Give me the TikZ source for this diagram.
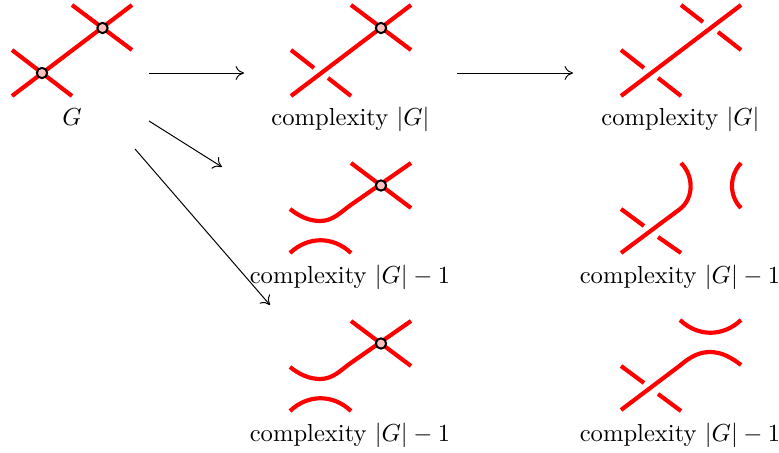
\documentclass[tikz,border=0pt]{standalone}
\usetikzlibrary{arrows.meta}
\begin{document}
\begin{tikzpicture}[x=0.4066pt,y=-0.4066pt,
  strand/.style={red,line width=1.7pt},
  vertex/.style={circle,draw=black,fill=red!25,line width=0.8pt,inner sep=0pt,minimum size=4.2pt},
  lab/.style={anchor=base,inner sep=0pt},
  arr/.style={-{Computer Modern Rightarrow[length=3.4pt,width=5.6pt]},line width=0.4pt,black}]
\useasboundingbox (0,0) rectangle (779,453);
% row 1 left
\draw[strand] (12,96) -- (132,5);
\draw[strand] (12,50) -- (72,96);
\draw[strand] (72,5) -- (132,50);
\node[vertex] (va) at (42,73) {};
\node[vertex] (vb) at (102.5,28) {};
\node[lab] (lg) at (72,126) {$G$};
% row 1 middle
\draw[strand] (291,96) -- (411,5);
\draw[strand] (291,50) -- (314,68);
\draw[strand] (328,78) -- (351,96);
\draw[strand] (351,5) -- (411,50);
\node[vertex] (vc) at (381,28) {};
\node[lab] (l1) at (350.5,126) {complexity $|G|$};
% row 1 right
\draw[strand] (621,96) -- (741,5);
\draw[strand] (621,50) -- (644,68);
\draw[strand] (658,78) -- (681,96);
\draw[strand] (681,5) -- (703,22);
\draw[strand] (718,32) -- (741,50);
\node[lab] (l2) at (680.5,126) {complexity $|G|$};
% row 2 middle
\draw[strand] (290,209) .. controls (300,217) and (310,221) .. (320,221) .. controls (333,221) and (341,212) .. (350,205.5) -- (411,163);
\draw[strand] (351,163) -- (411,208);
\draw[strand] (290,253) .. controls (308,236) and (333,236) .. (351,253);
\node[vertex] (vd) at (381,185.5) {};
\node[lab] (l3) at (350,284) {complexity $|G|-1$};
% row 2 right
\draw[strand] (621,253) -- (680,209) .. controls (694,198) and (694,176) .. (681,163);
\draw[strand] (621,209) -- (644,226);
\draw[strand] (658,237) -- (681,253);
\draw[strand] (741,163) .. controls (729,176) and (729,196) .. (741,208);
\node[lab] (l4) at (680,284) {complexity $|G|-1$};
% row 3 middle
\draw[strand] (290,367) .. controls (300,375) and (310,379) .. (320,379) .. controls (333,379) and (341,370) .. (350,363.5) -- (411,321);
\draw[strand] (351,321) -- (411,366);
\draw[strand] (290,411) .. controls (308,394) and (333,394) .. (351,411);
\node[vertex] (ve) at (381,343.5) {};
\node[lab] (l5) at (350,442) {complexity $|G|-1$};
% row 3 right
\draw[strand] (621,410) -- (680,365.5) .. controls (690,357) and (699,352) .. (710,352) .. controls (722,352) and (732,358) .. (741,365);
\draw[strand] (621,366) -- (644,383);
\draw[strand] (658,394) -- (681,411);
\draw[strand] (680,320) .. controls (698,337) and (723,337) .. (741,320);
\node[lab] (l6) at (680,442) {complexity $|G|-1$};
% arrows
\coordinate (a1s) at (149,73); \coordinate (a1e) at (244,73);
\coordinate (a2s) at (457,73); \coordinate (a2e) at (573,73);
\coordinate (a3s) at (149,121); \coordinate (a3e) at (222,167);
\coordinate (a4s) at (135,149); \coordinate (a4e) at (270,305);
\draw[arr] (a1s) -- (a1e);
\draw[arr] (a2s) -- (a2e);
\draw[arr] (a3s) -- (a3e);
\draw[arr] (a4s) -- (a4e);
\end{tikzpicture}
\end{document}
